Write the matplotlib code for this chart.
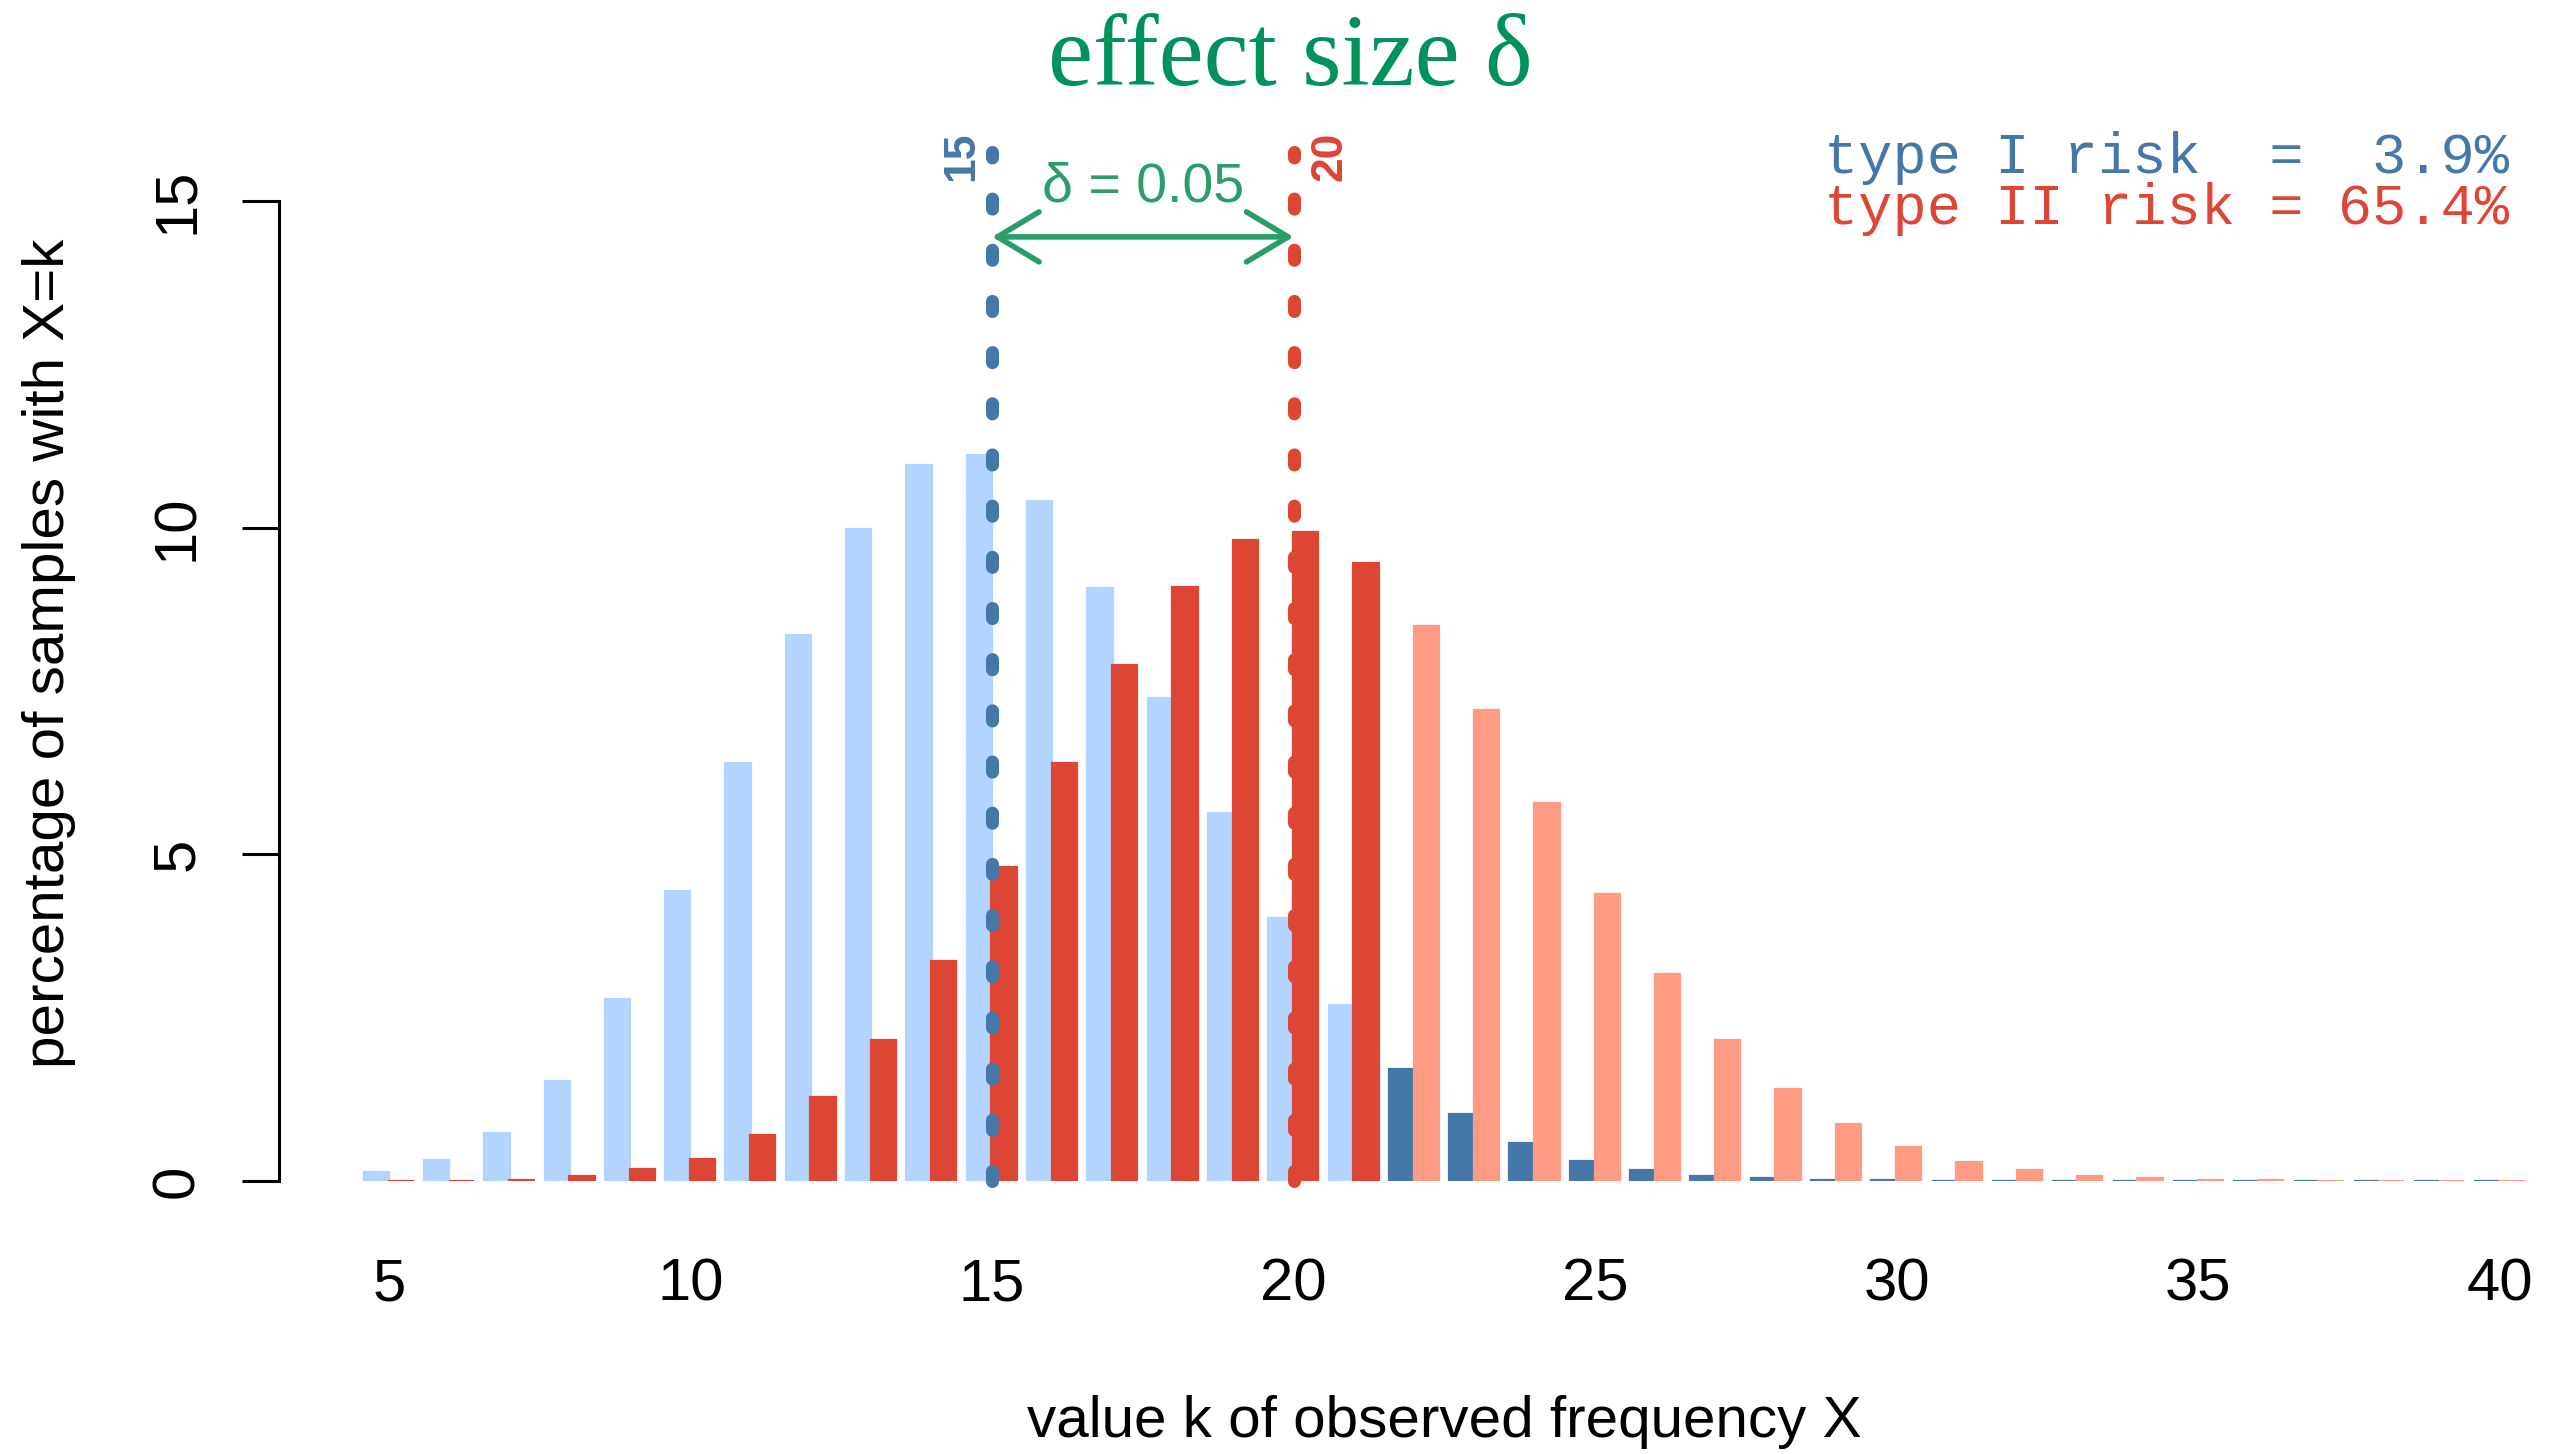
import numpy as np
import matplotlib
matplotlib.use('Agg')
import matplotlib.pyplot as plt

# observed frequency values k
k_values = list(range(5, 41))

# percentage of samples with X=k under H0 (p = 0.15)
pct_h0 = [0.13, 0.32, 0.74, 1.53, 2.78, 4.44, 6.40, 8.36, 9.98, 10.96,
          11.11, 10.41, 9.08, 7.39, 5.63, 4.02, 2.70, 1.71, 1.02, 0.58,
          0.31, 0.16, 0.08, 0.04, 0.02, 0.01, 0.004, 0.002, 0.001, 0.0004,
          0.0002, 0.0001, 0.0001, 0.0001, 0.0001, 0.0001]

# percentage of samples with X=k under H1 (p = 0.20)
pct_h1 = [0.001, 0.006, 0.02, 0.08, 0.18, 0.34, 0.70, 1.28, 2.16, 3.36,
          4.81, 6.40, 7.89, 9.09, 9.81, 9.93, 9.46, 8.49, 7.21, 5.79,
          4.39, 3.16, 2.16, 1.41, 0.87, 0.52, 0.29, 0.16, 0.08, 0.04,
          0.02, 0.01, 0.004, 0.002, 0.001, 0.0004]

expected_h0 = 15
expected_h1 = 20
critical_k = 22          # rejection region starts here
delta_label = 'δ = 0.05'
risk_lines = ['type I risk  =  3.9%', 'type II risk = 65.4%']
x_ticks = [5, 10, 15, 20, 25, 30, 35, 40]
y_ticks = [0, 5, 10, 15]

blue_dark = '#4677A9'
blue_light = '#B3D4FF'
red_dark = '#DD4535'
red_light = '#FF9B82'
green_title = '#00925A'
green_arrow = '#2B9D69'

sans = ['Liberation Sans', 'DejaVu Sans']
mono = ['Liberation Mono', 'DejaVu Sans Mono']

k = np.array(k_values)
h0 = np.array(pct_h0)
h1 = np.array(pct_h1)
col_h0 = [blue_dark if v >= critical_k else blue_light for v in k]
col_h1 = [red_light if v >= critical_k else red_dark for v in k]

fig = plt.figure(figsize=(25.61, 14.54), dpi=100)
ax = fig.add_axes([0.1089, 0.1878, 0.99 - 0.1089, 0.8618 - 0.1878])

bw = 0.42
ax.bar(k - bw / 2, h0, width=bw, color=col_h0, edgecolor=col_h0, linewidth=1.6)
ax.bar(k + bw / 2 - 0.01, h1, width=bw, color=col_h1, edgecolor=col_h1, linewidth=1.6)

# expected values as dotted verticals
for xv, c in [(expected_h0, blue_dark), (expected_h1, red_dark)]:
    ax.plot([xv, xv], [0, 15.75], color=c, lw=9.4, dashes=(0.77, 3.15),
            dash_capstyle='round', solid_capstyle='round', clip_on=False, zorder=5)

ax.text(expected_h0 - 0.5, 15.68, str(expected_h0), rotation=90, ha='center', va='center',
        color=blue_dark, fontsize=32, fontweight='bold', family=sans, clip_on=False)
ax.text(expected_h1 + 0.6, 15.68, str(expected_h1), rotation=90, ha='center', va='center',
        color=red_dark, fontsize=32, fontweight='bold', family=sans, clip_on=False)

# effect size arrow
ax.annotate('', xy=(expected_h0, 14.45), xytext=(expected_h1, 14.45),
            arrowprops=dict(arrowstyle='<->,head_length=0.5,head_width=0.3',
                            color=green_arrow, lw=4.0,
                            mutation_scale=60, shrinkA=0, shrinkB=0),
            annotation_clip=False)
ax.text((expected_h0 + expected_h1) / 2, 15.2, delta_label, ha='center', va='center',
        color=green_arrow, fontsize=40, family=sans, clip_on=False)

ax.text(40.15, 15.66, risk_lines[0], ha='right', va='center', color=blue_dark,
        fontsize=41, family=mono, clip_on=False)
ax.text(40.15, 14.88, risk_lines[1], ha='right', va='center', color=red_dark,
        fontsize=41, family=mono, clip_on=False)

ax.set_xlim(3.176, 40.59)
ax.set_ylim(0, 15)

for s in ['top', 'right', 'bottom']:
    ax.spines[s].set_visible(False)
ax.spines['left'].set_linewidth(2.2)
ax.spines['left'].set_bounds(0, 15)

ax.set_xticks(x_ticks)
ax.set_xticklabels([str(v) for v in x_ticks], family=sans, fontsize=43)
ax.tick_params(axis='x', length=0, pad=55)
ax.set_yticks(y_ticks)
ax.set_yticklabels([str(v) for v in y_ticks], family=sans, fontsize=43,
                   rotation=90, va='center')
ax.tick_params(axis='y', length=27, width=2.2, pad=26)

fig.text(0.504, 0.9415, 'effect size δ', ha='center', va='baseline', color=green_title,
         fontsize=73, family=['Liberation Serif', 'DejaVu Serif'])
fig.text(0.5638, 0.022, 'value k of observed frequency X', ha='center', va='center',
         fontsize=42, family=sans)
fig.text(0.019, 0.551, 'percentage of samples with X=k', ha='center', va='center',
         rotation=90, fontsize=42, family=sans)

fig.savefig('out.png', dpi=100)
